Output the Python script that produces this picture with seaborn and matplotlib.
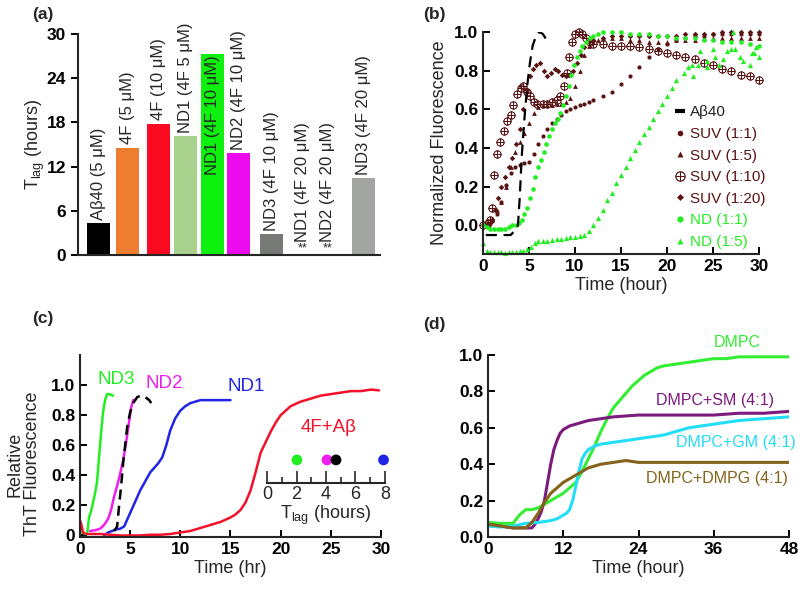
import numpy as np
import pandas as pd
import matplotlib.pyplot as plt
from matplotlib.lines import Line2D
import seaborn as sns


# ---- (a) lag times ----
bar_labels = ['Aβ40 (5 μM)', '4F (5 μM)', '4F (10 μM)', 'ND1 (4F 5 μM)', 'ND1 (4F 10 μM)',
              'ND2 (4F 10 μM)', 'ND3 (4F 10 μM)', 'ND1 (4F 20 μM)', 'ND2 (4F 20 μM)', 'ND3 (4F 20 μM)']
tlag = [4.3, 14.5, 17.8, 16.1, 27.3, 13.8, 2.8, 0, 0, 10.4]
bar_colors = ['#000000', '#ed7d31', '#fb0a22', '#a9d18e', '#0ef00e',
              '#ee0aee', '#767975', '#888888', '#888888', '#a3a5a3']
bar_pos = [0, 0.99, 2.02, 2.96, 3.88, 4.74, 5.88, 6.94, 7.79, 9.01]

# ---- (b) normalized fluorescence ----
abeta_b_x = [0.3, 1.5, 3.0, 3.4, 3.8, 4.0, 4.2, 4.5, 4.8, 5.1, 5.4, 5.7, 6.1, 6.5, 6.9]
abeta_b_y = [-0.05, -0.05, -0.05, -0.03, 0.0, 0.15, 0.35, 0.55, 0.72, 0.84, 0.93, 0.97, 1.0, 0.99, 0.96]

suv11_x = [0, 0.5, 1, 1.5, 2, 2.5, 3, 3.5, 4, 4.5, 5, 5.5, 6, 6.5, 7, 7.5, 8, 8.5, 9, 9.5, 10, 10.5,
           11, 11.5, 12, 13, 14, 15, 16, 17, 18, 19, 20, 21, 22, 23, 24, 25, 26, 27, 28, 29, 30]
suv11_y = [0, 0.01, 0.03, 0.06, 0.12, 0.21, 0.27, 0.3, 0.31, 0.32, 0.33, 0.37, 0.42, 0.46, 0.5, 0.53,
           0.55, 0.57, 0.59, 0.6, 0.61, 0.62, 0.63, 0.64, 0.65, 0.67, 0.69, 0.73, 0.77, 0.82, 0.87,
           0.91, 0.94, 0.96, 0.97, 0.98, 0.98, 0.99, 0.99, 0.99, 0.99, 0.99, 0.99]

suv15_x = [0.5, 1, 1.5, 2, 2.5, 3, 3.5, 4, 4.5, 5, 5.5, 6, 6.5, 7, 7.5, 8, 8.5, 9, 9.5, 10, 10.5,
           11, 11.5, 12, 12.5, 13, 14, 15, 16, 17, 18, 19, 20, 21, 22, 23, 24, 25, 26, 27, 28, 29, 30]
suv15_y = [0.0, 0.03, 0.08, 0.12, 0.2, 0.3, 0.38, 0.43, 0.48, 0.53, 0.58, 0.61, 0.62, 0.62, 0.62,
           0.63, 0.63, 0.64, 0.66, 0.72, 0.8, 0.88, 0.93, 0.95, 0.96, 0.97, 0.97, 0.97, 0.96, 0.96,
           0.95, 0.95, 0.95, 0.96, 0.96, 0.96, 0.97, 0.97, 0.97, 0.97, 0.97, 0.97, 0.97]

suv110_x = [0, 0.5, 0.8, 1.0, 1.2, 1.5, 1.9, 2.3, 2.6, 3.0, 3.3, 3.7, 4.1, 4.4, 4.8, 5.1, 5.5, 5.9,
            6.5, 7.0, 7.5, 8.0, 8.4, 8.8, 9.1, 9.4, 9.7, 10.0, 10.4, 10.8, 11.2, 11.6, 12, 13, 14,
            15, 16, 17, 18, 19, 20, 21, 22, 23, 24, 25, 26, 27, 28, 29, 30]
suv110_y = [0, 0.01, 0.03, 0.09, 0.26, 0.37, 0.43, 0.49, 0.54, 0.57, 0.62, 0.68, 0.71, 0.72, 0.69,
            0.67, 0.64, 0.63, 0.63, 0.63, 0.64, 0.65, 0.67, 0.72, 0.79, 0.87, 0.95, 0.99, 1.0, 0.99,
            0.97, 0.95, 0.94, 0.94, 0.93, 0.93, 0.93, 0.92, 0.91, 0.9, 0.89, 0.88, 0.87, 0.86, 0.84,
            0.83, 0.81, 0.8, 0.78, 0.77, 0.75]

suv120_x = [0.5, 1, 1.3, 1.6, 2, 2.4, 2.8, 3.2, 3.6, 4, 4.4, 4.8, 5.1, 5.4, 5.8, 6.2, 6.6, 7, 7.4,
            7.8, 8.2, 8.6, 9, 9.4, 9.8, 10.2, 10.6, 11, 11.5, 12, 13, 14, 15, 16, 17, 18, 19, 20,
            21, 22, 23, 24, 25, 26, 27, 28, 29, 30]
suv120_y = [0.0, 0.03, 0.08, 0.14, 0.2, 0.25, 0.3, 0.35, 0.42, 0.5, 0.6, 0.7, 0.77, 0.81, 0.83,
            0.84, 0.8, 0.77, 0.79, 0.81, 0.8, 0.78, 0.77, 0.78, 0.8, 0.84, 0.88, 0.92, 0.95, 0.96,
            0.97, 0.98, 0.98, 0.98, 0.98, 0.98, 0.98, 0.98, 0.98, 0.99, 0.99, 0.99, 0.99, 1.0, 1.0,
            1.0, 1.0, 1.0]

nd11_x = [0, 0.4, 0.8, 1.2, 1.6, 2.0, 2.4, 2.8, 3.2, 3.6, 3.9, 4.2, 4.5, 4.8, 5.1, 5.4, 5.7, 6.0,
          6.3, 6.6, 6.9, 7.2, 7.5, 7.8, 8.1, 8.4, 8.7, 9.0, 9.3, 9.6, 9.9, 10.2, 10.5, 10.8, 11.2,
          11.6, 12, 12.5, 13, 14, 15, 16, 17, 18, 19, 20, 21, 22, 23, 24, 25, 26, 27, 28, 29, 30]
nd11_y = [0, -0.01, -0.02, -0.02, -0.02, -0.02, -0.02, -0.01, 0.0, 0.0, 0.01, 0.03, 0.06, 0.09,
          0.14, 0.19, 0.25, 0.3, 0.34, 0.38, 0.42, 0.46, 0.5, 0.53, 0.55, 0.58, 0.62, 0.67, 0.72,
          0.78, 0.83, 0.87, 0.9, 0.93, 0.95, 0.97, 0.98, 0.99, 1.0, 1.0, 1.0, 0.99, 0.99, 0.99,
          0.98, 0.98, 0.97, 0.97, 0.97, 0.96, 0.96, 0.95, 0.95, 0.95, 0.94, 0.93]

nd15_x = [0, 0.4, 0.8, 1.2, 1.6, 2, 2.4, 2.8, 3.2, 3.6, 4, 4.4, 4.8, 5.2, 5.6, 6, 6.5, 7, 7.5, 8,
          8.5, 9, 9.5, 10, 10.5, 11, 11.5, 12, 12.5, 13, 13.5, 14, 14.5, 15, 15.5, 16, 16.5, 17,
          17.5, 18, 18.5, 19, 19.5, 20, 20.5, 21, 21.8, 22.3, 22.7, 22.8, 23.4, 23.6, 24.3, 24.3,
          25.0, 25.2, 25.6, 26.1, 26.5, 27.0, 27.2, 27.4, 27.9, 28.3, 29.0, 29.2, 29.5, 29.7, 30.0]
nd15_y = [-0.09, -0.13, -0.14, -0.14, -0.14, -0.14, -0.145, -0.14, -0.14, -0.14, -0.135, -0.13,
          -0.12, -0.11, -0.09, -0.08, -0.08, -0.08, -0.075, -0.07, -0.07, -0.065, -0.06, -0.06,
          -0.055, -0.05, -0.03, 0.0, 0.04, 0.08, 0.13, 0.17, 0.22, 0.26, 0.3, 0.35, 0.39, 0.43,
          0.47, 0.51, 0.55, 0.59, 0.63, 0.67, 0.71, 0.75, 0.79, 0.82, 0.83, 0.77, 0.83, 0.9, 0.85,
          0.82, 0.91, 0.87, 0.83, 0.86, 0.9, 0.91, 1.0, 0.91, 0.87, 0.85, 0.83, 0.89, 0.89, 0.92,
          0.87]

# ---- (c) ThT kinetics ----
nd3_x = [0.05, 0.2, 0.5, 0.7, 0.8, 0.9, 1.1, 1.3, 1.5, 1.7, 1.9, 2.1, 2.3, 2.5, 2.7, 2.9, 3.1, 3.3]
nd3_y = [0.08, 0.02, 0.01, 0.01, 0.06, 0.12, 0.16, 0.22, 0.28, 0.36, 0.52, 0.68, 0.82, 0.9, 0.94,
         0.94, 0.935, 0.93]
nd2_x = [1.0, 1.5, 2.0, 2.4, 2.8, 3.1, 3.4, 3.7, 4.0, 4.3, 4.6, 4.9, 5.1, 5.3, 5.5]
nd2_y = [0.03, 0.035, 0.045, 0.07, 0.11, 0.17, 0.26, 0.33, 0.41, 0.5, 0.62, 0.76, 0.85, 0.9, 0.9]
abeta_c_x = [3.4, 3.7, 3.9, 4.1, 4.3, 4.5, 4.7, 5.0, 5.3, 5.7, 6.1, 6.5, 6.9, 7.1]
abeta_c_y = [0.03, 0.06, 0.2, 0.33, 0.48, 0.6, 0.72, 0.82, 0.88, 0.92, 0.93, 0.92, 0.9, 0.88]
nd1_x = [2.4, 2.8, 3.2, 3.6, 4.0, 4.4, 4.8, 5.2, 5.6, 6.0, 6.5, 7.0, 7.4, 7.8, 8.2, 8.6, 9.0, 9.5,
         10, 10.5, 11, 11.5, 12, 13, 14, 15]
nd1_y = [0.0, 0.02, 0.03, 0.04, 0.045, 0.06, 0.12, 0.18, 0.24, 0.3, 0.36, 0.42, 0.45, 0.48, 0.52,
         0.6, 0.7, 0.78, 0.83, 0.86, 0.88, 0.89, 0.9, 0.9, 0.9, 0.9]
f4_x = [0.0, 0.15, 0.3, 0.6, 1, 2, 3, 4, 5, 6, 7, 8, 9, 10, 11, 12, 13, 14, 15, 15.5, 16, 16.5, 17,
        17.5, 18, 18.5, 19, 19.5, 20, 20.5, 21, 22, 23, 24, 25, 26, 27, 28, 29, 29.8]
f4_y = [0.1, 0.07, 0.02, 0.01, 0.01, 0.01, 0.005, 0.0, 0.0, 0.0, 0.005, 0.005, 0.01, 0.02, 0.03,
        0.05, 0.07, 0.09, 0.12, 0.14, 0.17, 0.22, 0.3, 0.42, 0.55, 0.62, 0.69, 0.75, 0.8, 0.83,
        0.86, 0.89, 0.91, 0.93, 0.94, 0.95, 0.96, 0.96, 0.97, 0.965]
inset_names = ['ND3', 'ND2', 'Aβ', 'ND1']
inset_tlag = [2.03, 4.07, 4.68, 7.9]

# ---- (d) lipid compositions ----
dmpc_x = [0, 2, 4, 5, 6, 7, 8, 9, 10, 11, 12, 13, 14, 15, 16, 17, 18, 19, 20, 21, 22, 23, 24, 25,
          26, 27, 28, 30, 32, 34, 36, 38, 40, 42, 44, 46, 48]
dmpc_y = [0.08, 0.075, 0.075, 0.12, 0.15, 0.15, 0.16, 0.18, 0.2, 0.22, 0.24, 0.27, 0.3, 0.36,
          0.43, 0.5, 0.58, 0.65, 0.71, 0.75, 0.79, 0.83, 0.86, 0.89, 0.91, 0.93, 0.94, 0.95, 0.96,
          0.97, 0.98, 0.98, 0.99, 0.99, 0.99, 0.99, 0.99]
sm_x = [0, 2, 4, 6, 7, 7.5, 8, 8.5, 9, 9.5, 10, 10.5, 11, 11.5, 12, 13, 14, 15, 16, 18, 20, 24,
        28, 32, 36, 40, 44, 48]
sm_y = [0.07, 0.06, 0.05, 0.05, 0.05, 0.07, 0.1, 0.14, 0.2, 0.3, 0.4, 0.48, 0.53, 0.57, 0.59,
        0.61, 0.62, 0.63, 0.64, 0.65, 0.66, 0.67, 0.67, 0.67, 0.67, 0.68, 0.68, 0.69]
gm_x = [0, 2, 4, 6, 8, 10, 11, 12, 12.5, 13, 13.5, 14, 14.5, 15, 15.5, 16, 17, 18, 20, 22, 24, 26,
        28, 30, 32, 34, 36, 38, 40, 42, 44, 46, 48]
gm_y = [0.06, 0.055, 0.06, 0.075, 0.08, 0.09, 0.1, 0.12, 0.13, 0.15, 0.2, 0.28, 0.36, 0.43, 0.46,
        0.48, 0.5, 0.51, 0.52, 0.53, 0.54, 0.55, 0.56, 0.58, 0.6, 0.61, 0.62, 0.63, 0.64, 0.645,
        0.65, 0.655, 0.66]
dmpg_x = [0, 2, 4, 6, 7, 8, 9, 10, 11, 12, 13, 14, 15, 16, 17, 18, 20, 22, 24, 28, 32, 36, 40, 44, 48]
dmpg_y = [0.07, 0.06, 0.05, 0.05, 0.08, 0.13, 0.19, 0.24, 0.27, 0.3, 0.32, 0.34, 0.36, 0.38, 0.39,
          0.4, 0.41, 0.42, 0.41, 0.41, 0.41, 0.41, 0.41, 0.41, 0.41]


sns.set_style('ticks')
plt.rcParams['font.family'] = ['Liberation Sans', 'DejaVu Sans']
plt.rcParams['mathtext.fontset'] = 'custom'
plt.rcParams['mathtext.rm'] = 'Liberation Sans'
plt.rcParams['mathtext.it'] = 'Liberation Sans:italic'
plt.rcParams['mathtext.bf'] = 'Liberation Sans:bold'
plt.rcParams['axes.linewidth'] = 1.5

W, H = 800, 589
fig = plt.figure(figsize=(8, 5.89), dpi=100)


def add_ax(left, top, right, bottom):
    return fig.add_axes([left / W, 1 - bottom / H, (right - left) / W, (bottom - top) / H])


def style(ax, direction='in'):
    sns.despine(ax=ax)
    ax.tick_params(direction=direction, length=5, width=1.4, labelsize=12.5, colors='black')
    for t in ax.get_xticklabels() + ax.get_yticklabels():
        t.set_fontweight('bold')


brown = '#5a1414'
lime = '#22ee22'

# (a)
ax_a = add_ax(78, 34, 380, 255)
df_a = pd.DataFrame({'pos': bar_pos, 'tlag': tlag, 'label': bar_labels})
sns.barplot(data=df_a, x='pos', y='tlag', hue='label', palette=bar_colors, native_scale=True,
            dodge=False, width=0.92, saturation=1, errorbar=None, legend=False, linewidth=0, ax=ax_a)
ax_a.set_xlim(-0.71, 9.56)
ax_a.set_ylim(0, 30)
ax_a.set_yticks([0, 6, 12, 18, 24, 30])
ax_a.set_xticks([])
ax_a.set_xlabel('')
ax_a.set_ylabel('T$_\\mathrm{lag}$ (hours)', fontsize=13, labelpad=0)
for p, v, lab in zip(bar_pos, tlag, bar_labels):
    if v > 25:
        ax_a.text(p, v - 0.2, lab, rotation=90, ha='center', va='top', fontsize=12)
    else:
        ax_a.text(p, max(v, 1.3) + 0.5, lab, rotation=90, ha='center', va='bottom', fontsize=12)
    if v == 0:
        ax_a.text(p, 0.1, '**', ha='center', va='bottom', fontsize=9)
style(ax_a, 'out')

# (b)
ax_b = add_ax(483, 32, 759, 254)
sns.lineplot(x=abeta_b_x, y=abeta_b_y, color='black', lw=1.6, ls=(0, (5, 3)),
             estimator=None, sort=False, ax=ax_b)
series_b = [
    (suv11_x, suv11_y, 'o', 9, brown, 0),
    (suv15_x, suv15_y, '^', 12, brown, 0),
    (suv110_x, suv110_y, '$\\oplus$', 30, brown, 0.4),
    (suv120_x, suv120_y, 'D', 8, brown, 0),
    (nd11_x, nd11_y, 'o', 11, lime, 0),
    (nd15_x, nd15_y, '^', 14, lime, 0),
]
for xs, ys, m, s, c, lw in series_b:
    sns.scatterplot(x=xs, y=ys, marker=m, s=s, color=c, edgecolor=c, linewidth=lw,
                    clip_on=False, ax=ax_b)
ax_b.set_xlim(0, 30)
ax_b.set_ylim(-0.148, 1.0)
ax_b.set_xticks(range(0, 31, 5))
ax_b.set_yticks(np.arange(0, 1.01, 0.2))
ax_b.set_xlabel('Time (hour)', fontsize=13, labelpad=2)
ax_b.set_ylabel('Normalized Fluorescence', fontsize=13, labelpad=4)
style(ax_b)
leg_labels = ['Aβ40', 'SUV (1:1)', 'SUV (1:5)', 'SUV (1:10)', 'SUV (1:20)', 'ND (1:1)', 'ND (1:5)']
leg_handles = [
    Line2D([], [], color='black', lw=3, solid_capstyle='butt'),
    Line2D([], [], ls='', marker='o', ms=4, color=brown, mec='none'),
    Line2D([], [], ls='', marker='^', ms=4.5, color=brown, mec='none'),
    Line2D([], [], ls='', marker='$\\oplus$', ms=7, color=brown, mec=brown, mew=0.4),
    Line2D([], [], ls='', marker='D', ms=3.5, color=brown, mec='none'),
    Line2D([], [], ls='', marker='o', ms=4.5, color=lime, mec='none'),
    Line2D([], [], ls='', marker='^', ms=5, color=lime, mec='none'),
]
ax_b.legend(leg_handles, leg_labels, loc='upper left', bbox_to_anchor=(0.697, 0.67),
            frameon=False, fontsize=11, handlelength=0.6, handletextpad=0.35, labelspacing=0.5,
            borderpad=0, borderaxespad=0,
            labelcolor=['#222222', brown, brown, brown, brown, lime, lime])

# (c)
ax_c = add_ax(80, 355, 381, 537)
lines_c = [
    (nd3_x, nd3_y, '#22ee22', '-'),
    (nd2_x, nd2_y, '#ee1eee', '-'),
    (nd1_x, nd1_y, '#1f24e6', '-'),
    (f4_x, f4_y, '#f5102a', '-'),
    (abeta_c_x, abeta_c_y, 'black', (0, (4, 2.5))),
]
for xs, ys, c, ls in lines_c:
    sns.lineplot(x=xs, y=ys, color=c, lw=1.8, ls=ls, estimator=None, sort=False, ax=ax_c)
ax_c.set_xlim(0, 30)
ax_c.set_ylim(-0.01, 1.2)
ax_c.set_xticks(range(0, 31, 5))
ax_c.set_yticks([0, 0.2, 0.4, 0.6, 0.8, 1.0])
ax_c.set_yticklabels(['0', '0.2', '0.4', '0.6', '0.8', '1.0'])
ax_c.set_xlabel('Time (hr)', fontsize=13, labelpad=2)
ax_c.set_ylabel('Relative\nThT Fluorescence', fontsize=13, linespacing=1.0)
ax_c.yaxis.set_label_coords(-0.13, 0.4)
style(ax_c)
for txt, x, y, c in [('ND3', 3.6, 1.04, '#22ee22'), ('ND2', 8.4, 1.01, '#ee1eee'),
                     ('ND1', 16.6, 0.99, '#1f24e6'), ('4F+Aβ', 24.8, 0.72, '#f5102a')]:
    ax_c.text(x, y, txt, color=c, fontsize=13.5, ha='center', va='center')

ax_in = add_ax(267, 450, 385, 483)
ax_in.patch.set_alpha(0)
sns.scatterplot(x=inset_tlag, y=[0.7] * len(inset_tlag), hue=inset_names,
                palette=['#22ee22', '#ee1eee', 'black', '#1f24e6'], s=60, linewidth=0,
                legend=False, clip_on=False, ax=ax_in)
ax_in.set_xlim(0, 8)
ax_in.set_ylim(0, 1)
ax_in.set_yticks([])
ax_in.set_xticks([0, 2, 4, 6, 8])
ax_in.set_xticks([1, 3, 5, 7], minor=True)
for s in ['left', 'top', 'right']:
    ax_in.spines[s].set_visible(False)
ax_in.tick_params(which='major', direction='in', length=9, width=1.2, labelsize=13, pad=2)
ax_in.tick_params(which='minor', direction='in', length=4.5, width=1.2)
ax_in.set_xlabel('T$_\\mathrm{lag}$ (hours)', fontsize=13, labelpad=1)

# (d)
ax_d = add_ax(488, 355, 789, 537)
lines_d = [
    (dmpc_x, dmpc_y, '#33ee33'),
    (sm_x, sm_y, '#7d1a7d'),
    (gm_x, gm_y, '#22ddf8'),
    (dmpg_x, dmpg_y, '#84631a'),
]
for xs, ys, c in lines_d:
    sns.lineplot(x=xs, y=ys, color=c, lw=2.2, estimator=None, sort=False, ax=ax_d)
ax_d.set_xlim(0, 48)
ax_d.set_ylim(0, 1.0)
ax_d.set_xticks([0, 12, 24, 36, 48])
ax_d.set_yticks(np.arange(0, 1.01, 0.2))
ax_d.set_xlabel('Time (hour)', fontsize=13, labelpad=2)
ax_d.set_ylabel('')
style(ax_d)
for txt, x, y, c in [('DMPC', 39.7, 1.07, '#33ee33'), ('DMPC+SM (4:1)', 36.2, 0.75, '#7d1a7d'),
                     ('DMPC+GM (4:1)', 39.6, 0.52, '#22ddf8'),
                     ('DMPC+DMPG (4:1)', 36.5, 0.32, '#84631a')]:
    ax_d.text(x, y, txt, color=c, fontsize=11.5, ha='center', va='center', clip_on=False)

for txt, x, y in [('(a)', 32, 15), ('(b)', 423, 15), ('(c)', 32, 318), ('(d)', 423, 325)]:
    fig.text(x / W, 1 - y / H, txt, fontsize=12.5, fontweight='bold', va='center')

fig.savefig('out.png', dpi=100)
